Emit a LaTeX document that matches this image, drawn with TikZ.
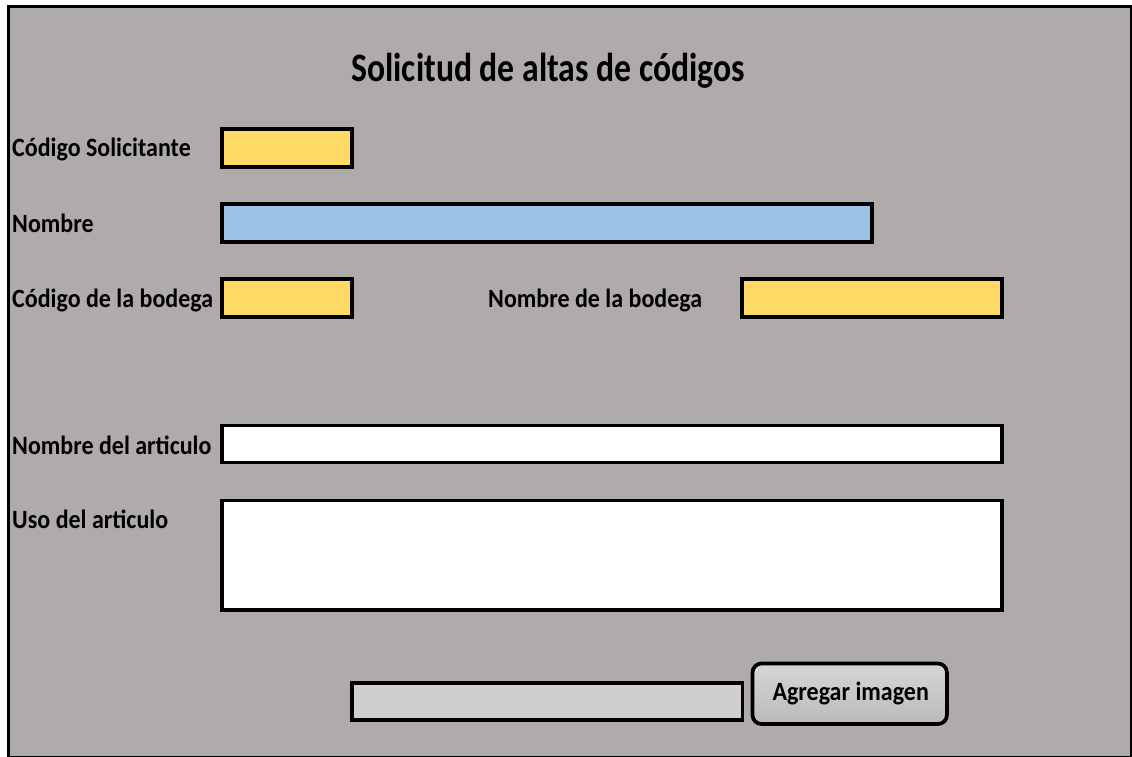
\documentclass[tikz,border=0pt]{standalone}
\usepackage{fontspec}
\usepackage{graphicx}
\setmainfont{Carlito}
\definecolor{bgc}{HTML}{AFABAA}
\definecolor{yel}{HTML}{FFD966}
\definecolor{blu}{HTML}{9DC3E6}
\definecolor{lgr}{HTML}{D0CECE}
\newcommand{\tallL}[1]{\scalebox{1}[1.1]{#1}}
\newcommand{\tallT}[1]{\scalebox{1}[1.2]{#1}}
\begin{document}
\begin{tikzpicture}[x=1pt,y=-1pt,
  field/.style={draw=black, line width=3.7pt, inner sep=0pt, outer sep=0pt},
  lbl/.style={anchor=base west, inner sep=0pt, font=\fontsize{24}{28}\selectfont\bfseries},
]
\useasboundingbox (0,0) rectangle (1132,757);
\fill[white] (0,0) rectangle (1132,757);
\draw[line width=3.3pt, fill=bgc] (8.3,6.5) rectangle (1131.6,757.2);
\node[anchor=base, inner sep=0pt, font=\fontsize{33.7}{38}\selectfont\bfseries] (title) at (548,82) {\tallT{Solicitud de altas de códigos}};

\node[lbl] (l1) at (12,157) {\tallL{Código Solicitante}};
\node[field, fill=yel, minimum width=130pt, minimum height=38pt] (f1) at (286.85,147.85) {};

\node[lbl] (l2) at (12,232) {\tallL{Nombre}};
\node[field, fill=blu, minimum width=650pt, minimum height=38pt] (f2) at (546.85,222.85) {};

\node[lbl] (l3) at (12,307) {\tallL{Código de la bodega}};
\node[field, fill=yel, minimum width=130pt, minimum height=37.5pt] (f3) at (286.85,297.9) {};

\node[lbl] (l4) at (488,307) {\tallL{Nombre de la bodega}};
\node[field, fill=yel, minimum width=260pt, minimum height=37.5pt] (f4) at (871.85,297.9) {};

\node[lbl] (l5) at (12,454) {\tallL{Nombre del articulo}};
\node[field, fill=white, minimum width=780pt, minimum height=37pt] (f5) at (611.85,444) {};

\node[lbl] (l6) at (12,528) {\tallL{Uso del articulo}};
\node[field, fill=white, minimum width=780pt, minimum height=109.5pt] (f6) at (611.85,555.25) {};

\node[field, fill=lgr, minimum width=390.7pt, minimum height=37.2pt] (f7) at (547.2,701.4) {};

\node[field, rounded corners=9pt, top color=lgr!85!white, bottom color=lgr!90!black, minimum width=194.4pt, minimum height=60.5pt] (btn) at (849.7,693.75) {};
\node[anchor=base, inner sep=0pt, font=\fontsize{24}{28}\selectfont\bfseries] (btnt) at (850.7,700) {\tallL{Agregar imagen}};
\end{tikzpicture}
\end{document}
